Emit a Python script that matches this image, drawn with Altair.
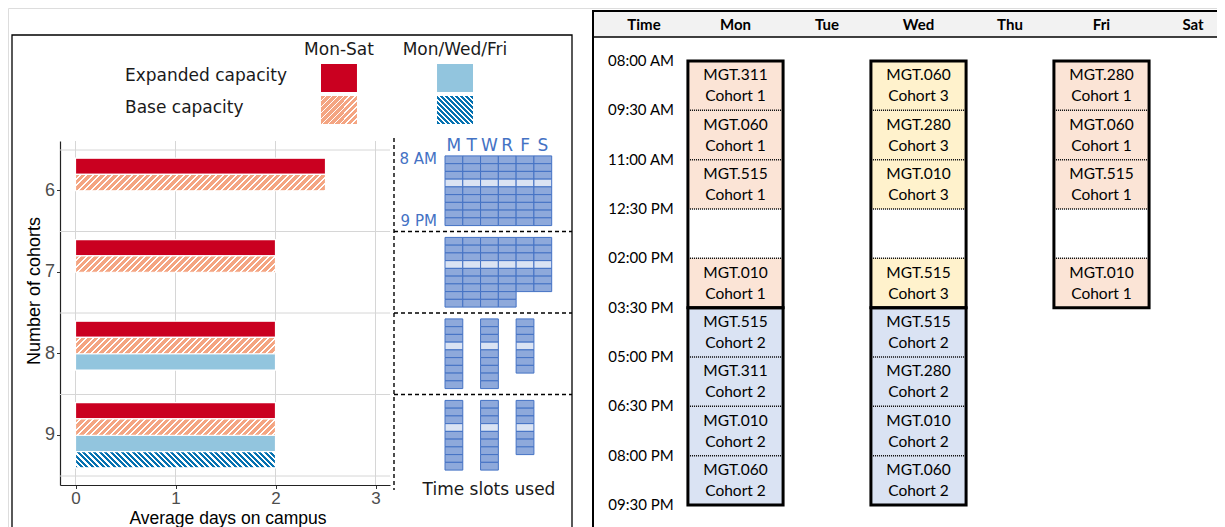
import altair as alt
import pandas as pd

# ----------------------------- data -----------------------------
COHORTS = [6, 7, 8, 9]
SERIES = ["Mon-Sat expanded", "Mon-Sat base", "Mon/Wed/Fri expanded", "Mon/Wed/Fri base"]
MONSAT_EXPANDED = [2.5, 2, 2, 2]
MONSAT_BASE = [2.5, 2, 2, 2]
MWF_EXPANDED = [None, None, 2, 2]
MWF_BASE = [None, None, None, 2]
X_TICKS = [0, 1, 2, 3]

LEGEND_COLS = ["Mon-Sat", "Mon/Wed/Fri"]
LEGEND_ROWS = ["Expanded capacity", "Base capacity"]

SLOT_DAYS = ["M", "T", "W", "R", "F", "S"]
SLOTS_6 = [9, 9, 9, 9, 9, 9]
SLOTS_7 = [9, 9, 9, 9, 7, 7]
SLOTS_8 = [9, 0, 9, 0, 7, 0]
SLOTS_9 = [9, 0, 9, 0, 7, 0]
LUNCH_SLOT = 3
N_SLOTS = 9
SLOT_EDGE_LABELS = ["8 AM", "9 PM"]
SLOT_EDGE_ROWS = [0, 8]

TABLE_COLS = ["Time", "Mon", "Tue", "Wed", "Thu", "Fri", "Sat"]
TIME_LABELS = ["08:00 AM", "09:30 AM", "11:00 AM", "12:30 PM", "02:00 PM",
               "03:30 PM", "05:00 PM", "06:30 PM", "08:00 PM", "09:30 PM"]
TIME_HOURS = [8.0, 9.5, 11.0, 12.5, 14.0, 15.5, 17.0, 18.5, 20.0, 21.5]
MON_COURSES = ["MGT.311", "MGT.060", "MGT.515", "", "MGT.010", "MGT.515", "MGT.311", "MGT.010", "MGT.060"]
MON_COHORTS = [1, 1, 1, None, 1, 2, 2, 2, 2]
WED_COURSES = ["MGT.060", "MGT.280", "MGT.010", "", "MGT.515", "MGT.515", "MGT.280", "MGT.010", "MGT.060"]
WED_COHORTS = [3, 3, 3, None, 3, 2, 2, 2, 2]
FRI_COURSES = ["MGT.280", "MGT.060", "MGT.515", "", "MGT.010"]
FRI_COHORTS = [1, 1, 1, None, 1]
BOX_DAYS = ["Mon", "Mon", "Wed", "Wed", "Fri"]
BOX_FIRST = [0, 5, 0, 5, 0]
BOX_LAST = [4, 8, 4, 8, 4]
COHORT_NAMES = ["1", "2", "3"]
COHORT_FILLS = ["#FBE4D6", "#DAE3F3", "#FFF2CC"]

# ----------------------------- layout (canvas px) -----------------------------
W, H = 1209, 519
BX0, BX1 = 52, 382          # bar panel x extent
BY0, BY1 = 133, 477         # bar panel y extent
X_DOM = [-0.155, 3.145]
GAP = 9
P_OUT = 4 * GAP / ((BY1 - BY0) - 2 * GAP)
BAND = (BY1 - BY0) / (4 + 2 * P_OUT)
BAR_H = BAND / 5
PX_PER_UNIT = (BX1 - BX0) / (X_DOM[1] - X_DOM[0])

X_SCALE = alt.Scale(domain=X_DOM, range=[BX0, BX1], nice=False, zero=False)
Y_SCALE = alt.Scale(type="band", domain=COHORTS, range=[BY0, BY1], paddingInner=0, paddingOuter=P_OUT)
OFF_SCALE = alt.Scale(type="band", domain=SERIES, paddingInner=0, paddingOuter=0.5)
SLOT_X = alt.Scale(type="band", domain=SLOT_DAYS, range=[437, 543.7], paddingInner=0, paddingOuter=0)
SLOT_OFF = alt.Scale(type="band", domain=list(range(N_SLOTS)), paddingInner=0, paddingOuter=0.765)
LEG_X = alt.Scale(type="band", domain=LEGEND_COLS, range=[313, 465], paddingInner=0.69, paddingOuter=0)
LEG_Y = alt.Scale(type="band", domain=LEGEND_ROWS, range=[56, 116], paddingInner=0.125, paddingOuter=0)
X_TAB = alt.Scale(domain=[0, 6], range=[636, 1185], nice=False, zero=False)
Y_TAB = alt.Scale(domain=[8, 21.5], range=[53, 497], nice=False, zero=False)

RED, ORANGE, LBLUE, DBLUE = "#CA0020", "#F4A582", "#92C5DE", "#0571B0"
SLOT_BLUE = "#4472C4"


def hatch(color, w, h, period, white_frac, direction):
    span = w + h
    stops = []
    i = 0
    while i * period < span:
        a = i * period / span
        b = min((i * period + period * (1 - white_frac)) / span, 1.0)
        c = min((i + 1) * period / span, 1.0)
        stops += [{"offset": round(a, 5), "color": color},
                  {"offset": round(b, 5), "color": color},
                  {"offset": round(b, 5), "color": "#ffffff"},
                  {"offset": round(c, 5), "color": "#ffffff"}]
        i += 1
    r = h / w
    k = (1 + r) / (1 + r * r)
    if direction == "/":
        return {"gradient": "linear", "x1": 0, "y1": 0, "x2": round(k, 5),
                "y2": round(k * r, 5), "stops": stops}
    return {"gradient": "linear", "x1": 0, "y1": 1, "x2": round(k, 5),
            "y2": round(1 - k * r, 5), "stops": stops}


one = pd.DataFrame({"a": [0]})
layers = []

# ----------------------------- left panel -----------------------------
layers.append(alt.Chart(one).mark_rect(filled=False, stroke="black", strokeWidth=1.3).encode(
    x=alt.value(4), x2=alt.value(564), y=alt.value(27), y2=alt.value(H + 30)))

# gridlines
layers.append(alt.Chart(pd.DataFrame({"t": X_TICKS})).mark_rule(color="#D6D6D6", strokeWidth=1).encode(
    x=alt.X("t:Q", scale=X_SCALE, axis=None), y=alt.value(BY0), y2=alt.value(BY1)))
layers.append(alt.Chart(pd.DataFrame({"c": COHORTS})).mark_rule(color="#D6D6D6", strokeWidth=1).encode(
    y=alt.Y("c:O", scale=Y_SCALE, axis=None, bandPosition=0), x=alt.value(BX0), x2=alt.value(BX1)))
layers.append(alt.Chart(pd.DataFrame({"c": COHORTS[-1:]})).mark_rule(color="#D6D6D6", strokeWidth=1).encode(
    y=alt.Y("c:O", scale=Y_SCALE, axis=None, bandPosition=1), x=alt.value(BX0), x2=alt.value(BX1)))

rows = []
for i, c in enumerate(COHORTS):
    for s, vals in zip(SERIES, [MONSAT_EXPANDED, MONSAT_BASE, MWF_EXPANDED, MWF_BASE]):
        if vals[i] is not None:
            rows.append({"cohort": c, "series": s, "value": vals[i]})
bars = pd.DataFrame(rows)


def bar_enc(with_axes=False):
    if with_axes:
        ax = alt.Axis(orient="bottom", offset=BY1 - H, values=X_TICKS, grid=False, format="d",
                      tickSize=3.5, tickColor="#333333", domainColor="#222222", domainWidth=1.2,
                      labelFont="Liberation Sans", labelFontSize=17, labelColor="#4D4D4D",
                      labelPadding=2, title=None)
        ay = alt.Axis(orient="left", offset=-BX0, grid=False, tickSize=3.5, tickColor="#333333",
                      domainColor="#222222", domainWidth=1.2, labelFont="Liberation Sans",
                      labelFontSize=18, labelColor="#4D4D4D", labelPadding=2, title=None)
    else:
        ax = None
        ay = None
    return dict(
        x=alt.X("value:Q", scale=X_SCALE, axis=ax),
        x2=alt.datum(0),
        y=alt.Y("cohort:O", scale=Y_SCALE, axis=ay),
        yOffset=alt.YOffset("series:N", scale=OFF_SCALE),
    )


solid = bars[bars["series"].isin([SERIES[0], SERIES[2]])]
layers.append(alt.Chart(solid).mark_bar(stroke="white", strokeWidth=1.2).encode(
    color=alt.Color("series:N", scale=alt.Scale(domain=[SERIES[0], SERIES[2]], range=[RED, LBLUE]),
                    legend=None),
    **bar_enc(True)))

for s, col, d, per, wf in [(SERIES[1], ORANGE, "/", 6.5, 0.33), (SERIES[3], DBLUE, "\\", 5.5, 0.4)]:
    sub = bars[bars["series"] == s]
    for v in sorted(sub["value"].unique()):
        part = sub[sub["value"] == v]
        g = hatch(col, v * PX_PER_UNIT, BAR_H, per, wf, d)
        layers.append(alt.Chart(part).mark_bar(fill=g, stroke="white", strokeWidth=1.2).encode(**bar_enc()))

# axis titles
layers.append(alt.Chart(one).mark_text(text="Average days on campus", font="Liberation Sans",
                                       fontSize=17.5, color="black", baseline="alphabetic").encode(
    x=alt.value(220), y=alt.value(516)))
layers.append(alt.Chart(one).mark_text(text="Number of cohorts", font="Liberation Sans", fontSize=18,
                                       color="black", angle=270).encode(
    x=alt.value(27), y=alt.value(283)))

# legend
leg = pd.DataFrame([{"col": LEGEND_COLS[0], "row": LEGEND_ROWS[0], "k": "a"},
                    {"col": LEGEND_COLS[1], "row": LEGEND_ROWS[0], "k": "b"}])
layers.append(alt.Chart(leg).mark_rect().encode(
    x=alt.X("col:N", scale=LEG_X, axis=None), y=alt.Y("row:N", scale=LEG_Y, axis=None),
    color=alt.Color("k:N", scale=alt.Scale(domain=["a", "b"], range=[RED, LBLUE]), legend=None)))
for c, col, d, per, wf in [(LEGEND_COLS[0], ORANGE, "/", 6.0, 0.33), (LEGEND_COLS[1], DBLUE, "\\", 5.0, 0.4)]:
    layers.append(alt.Chart(pd.DataFrame({"col": [c], "row": [LEGEND_ROWS[1]]})).mark_rect(
        fill=hatch(col, 36, 28, per, wf, d)).encode(
        x=alt.X("col:N", scale=LEG_X, axis=None), y=alt.Y("row:N", scale=LEG_Y, axis=None)))
layers.append(alt.Chart(pd.DataFrame({"col": LEGEND_COLS})).mark_text(
    font="DejaVu Sans", fontSize=17, color="#1A1A1A").encode(
    x=alt.X("col:N", scale=LEG_X, axis=None), y=alt.value(42), text="col:N"))
layers.append(alt.Chart(pd.DataFrame({"row": LEGEND_ROWS})).mark_text(
    font="DejaVu Sans", fontSize=17, color="#1A1A1A", align="left", dy=-2).encode(
    x=alt.value(117), y=alt.Y("row:N", scale=LEG_Y, axis=None), text="row:N"))

# time-slot grids
cells = []
for c, counts in zip(COHORTS, [SLOTS_6, SLOTS_7, SLOTS_8, SLOTS_9]):
    for d, n in zip(SLOT_DAYS, counts):
        for r in range(n):
            cells.append({"cohort": c, "day": d, "row": r,
                          "kind": "lunch" if r == LUNCH_SLOT else "used"})
cells = pd.DataFrame(cells)
layers.append(alt.Chart(cells).mark_rect(stroke=SLOT_BLUE, strokeWidth=1).encode(
    x=alt.X("day:N", scale=SLOT_X, axis=None),
    y=alt.Y("cohort:O", scale=Y_SCALE, axis=None),
    yOffset=alt.YOffset("row:O", scale=SLOT_OFF),
    color=alt.Color("kind:N", scale=alt.Scale(domain=["used", "lunch"], range=["#8EA9DB", "#DAE3F3"]),
                    legend=None)))
layers.append(alt.Chart(pd.DataFrame({"day": SLOT_DAYS})).mark_text(
    font="DejaVu Sans", fontSize=17, color=SLOT_BLUE).encode(
    x=alt.X("day:N", scale=SLOT_X, axis=None), y=alt.value(138), text="day:N"))
edge = pd.DataFrame({"label": SLOT_EDGE_LABELS, "row": SLOT_EDGE_ROWS,
                     "cohort": [COHORTS[0]] * 2, "day": [SLOT_DAYS[0]] * 2})
layers.append(alt.Chart(edge).mark_text(font="DejaVu Sans", fontSize=15, color=SLOT_BLUE,
                                        align="right", dx=-17, dy=-1).encode(
    x=alt.X("day:N", scale=SLOT_X, axis=None),
    y=alt.Y("cohort:O", scale=Y_SCALE, axis=None),
    yOffset=alt.YOffset("row:O", scale=SLOT_OFF),
    text="label:N"))
layers.append(alt.Chart(one).mark_text(text="Time slots used", font="DejaVu Sans", fontSize=17,
                                       color="#1A1A1A").encode(x=alt.value(481), y=alt.value(482)))

# dashed separators
layers.append(alt.Chart(pd.DataFrame({"c": COHORTS[1:]})).mark_rule(
    color="black", strokeWidth=1.4, strokeDash=[4, 3]).encode(
    y=alt.Y("c:O", scale=Y_SCALE, axis=None, bandPosition=0), x=alt.value(386), x2=alt.value(564)))
layers.append(alt.Chart(one).mark_rule(color="black", strokeWidth=1.4, strokeDash=[4, 3]).encode(
    x=alt.value(386), y=alt.value(130), y2=alt.value(482)))

# ----------------------------- right panel: schedule -----------------------------
layers.append(alt.Chart(one).mark_rect(fill="#F2F2F2").encode(
    x=alt.value(585), x2=alt.value(W + 30), y=alt.value(3), y2=alt.value(29)))
layers.append(alt.Chart(one).mark_rect(filled=False, stroke="black", strokeWidth=2).encode(
    x=alt.value(585), x2=alt.value(W + 30), y=alt.value(3), y2=alt.value(H + 30)))
layers.append(alt.Chart(one).mark_rule(color="black", strokeWidth=1.3).encode(
    x=alt.value(585), x2=alt.value(W + 30), y=alt.value(29)))

layers.append(alt.Chart(pd.DataFrame({"name": TABLE_COLS, "col": list(range(len(TABLE_COLS)))})).mark_text(
    font="Lato", fontSize=15, fontWeight="bold", color="black").encode(
    x=alt.X("col:Q", scale=X_TAB, axis=None), y=alt.value(17), text="name:N"))
layers.append(alt.Chart(pd.DataFrame({"label": TIME_LABELS, "hour": TIME_HOURS, "col": 0})).mark_text(
    font="Lato", fontSize=15, color="black", dx=-3).encode(
    x=alt.X("col:Q", scale=X_TAB, axis=None), y=alt.Y("hour:Q", scale=Y_TAB, axis=None), text="label:N"))

sched = []
for day, courses, cohorts in [("Mon", MON_COURSES, MON_COHORTS), ("Wed", WED_COURSES, WED_COHORTS),
                              ("Fri", FRI_COURSES, FRI_COHORTS)]:
    for i, (crs, coh) in enumerate(zip(courses, cohorts)):
        if coh is None:
            continue
        sched.append({"col": TABLE_COLS.index(day), "start": TIME_HOURS[i], "end": TIME_HOURS[i + 1],
                      "cohort": str(coh), "label": f"{crs}\nCohort {coh}"})
sched = pd.DataFrame(sched)

boxes = pd.DataFrame({"col": [TABLE_COLS.index(d) for d in BOX_DAYS],
                      "start": [TIME_HOURS[i] for i in BOX_FIRST],
                      "end": [TIME_HOURS[i + 1] for i in BOX_LAST]})
seps = pd.DataFrame([{"col": TABLE_COLS.index(d), "y": TIME_HOURS[s]}
                     for d, f, l in zip(BOX_DAYS, BOX_FIRST, BOX_LAST) for s in range(f + 1, l + 1)])

box_enc = dict(x=alt.X("x0:Q", scale=X_TAB, axis=None), x2="x1:Q",
               y=alt.Y("start:Q", scale=Y_TAB, axis=None), y2="end:Q")
calc = dict(x0="datum.col - 0.52", x1="datum.col + 0.52")

layers.append(alt.Chart(boxes).transform_calculate(**calc).mark_rect(
    fill="black", xOffset=2, yOffset=2).encode(**box_enc))
layers.append(alt.Chart(boxes).transform_calculate(**calc).mark_rect(fill="white").encode(**box_enc))
layers.append(alt.Chart(sched).transform_calculate(**calc).mark_rect().encode(
    color=alt.Color("cohort:N", scale=alt.Scale(domain=COHORT_NAMES, range=COHORT_FILLS), legend=None),
    **box_enc))
layers.append(alt.Chart(seps).transform_calculate(**calc).mark_rule(
    color="black", strokeWidth=1.5, strokeDash=[1, 1]).encode(
    x=alt.X("x0:Q", scale=X_TAB, axis=None), x2="x1:Q", y=alt.Y("y:Q", scale=Y_TAB, axis=None)))
layers.append(alt.Chart(sched).transform_calculate(mid="(datum.start + datum.end) / 2").mark_text(
    font="Lato", fontSize=15.5, color="black", lineBreak="\n", lineHeight=21, dy=-10.5).encode(
    x=alt.X("col:Q", scale=X_TAB, axis=None), y=alt.Y("mid:Q", scale=Y_TAB, axis=None), text="label:N"))
layers.append(alt.Chart(boxes).transform_calculate(**calc).mark_rect(
    filled=False, stroke="black", strokeWidth=3).encode(**box_enc))

chart = alt.layer(*layers).resolve_scale(
    x="independent", y="independent", color="independent", yOffset="independent"
).properties(
    width=W, height=H, padding=0, autosize=alt.AutoSizeParams(type="none")
).configure_view(stroke=None).configure(background="white")

chart.save("out.html", embed_options={"renderer": "svg", "actions": False})
